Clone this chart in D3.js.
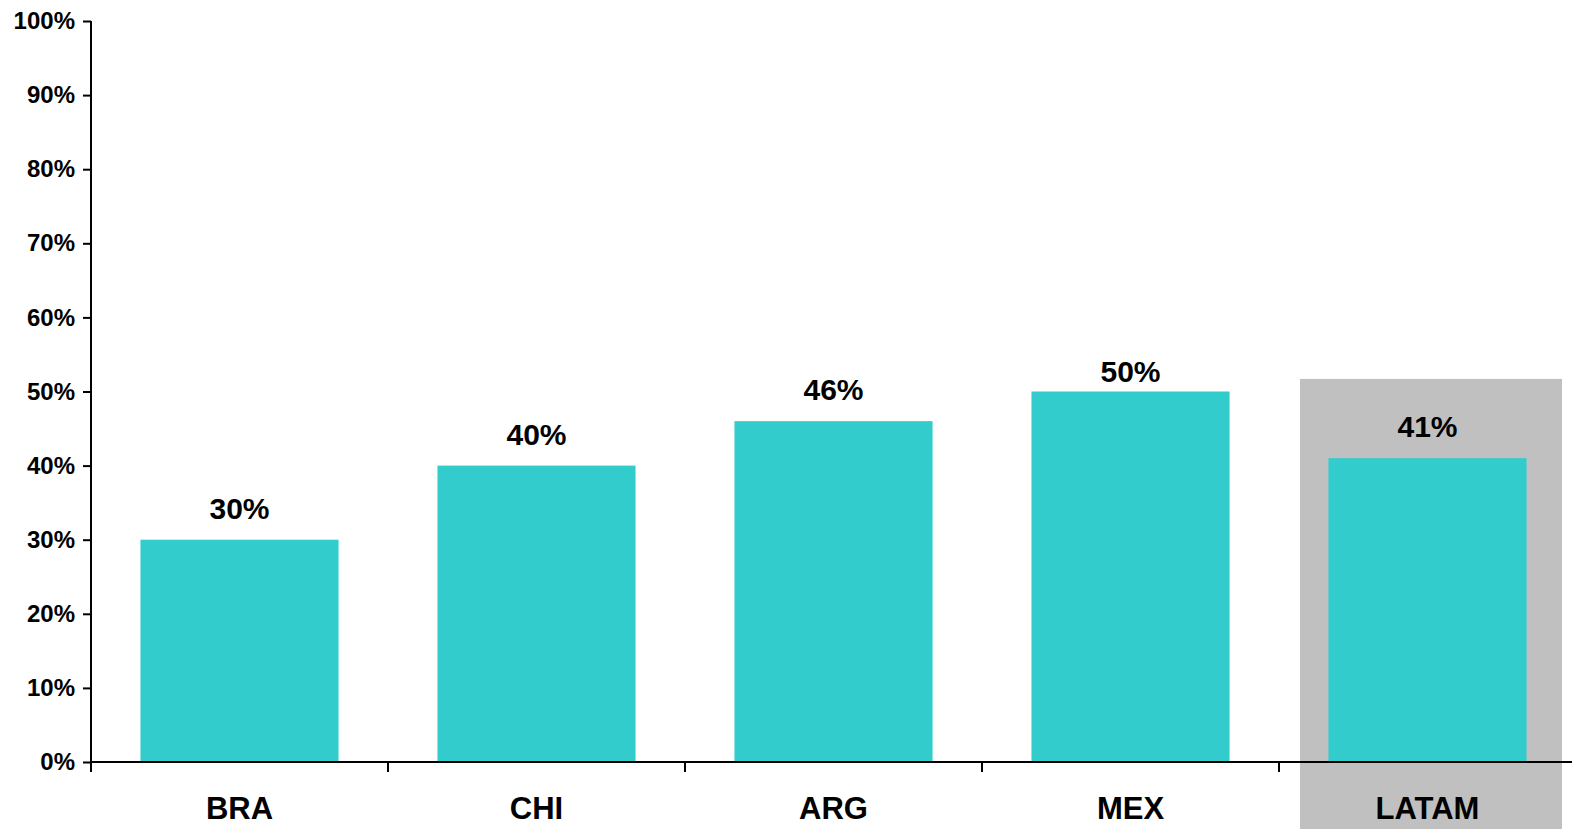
<!DOCTYPE html>
<html><head><meta charset="utf-8">
<script src="https://cdn.jsdelivr.net/npm/d3@7"></script>
<style>body{margin:0;background:#fff}svg{display:block}text{font-family:"Liberation Sans",Arial,sans-serif;font-weight:bold;fill:#000}</style>
</head><body><svg id="c" width="1572" height="829"></svg>
<script>
const categories = ["BRA","CHI","ARG","MEX","LATAM"];
const values = [30,40,46,50,41];
const yTicks = [0,10,20,30,40,50,60,70,80,90,100];
const highlight = "LATAM";
const highlightTop = 51.7;

const svg = d3.select("#c");
const x = d3.scaleBand().domain(categories).range([91,1576]).padding(0);
const y = d3.scaleLinear().domain([0,100]).range([762,21]);
const barW = x.bandwidth()*0.667;

// highlight box
svg.append("rect")
  .attr("x", x(highlight)+21).attr("width", x.bandwidth()-35)
  .attr("y", y(highlightTop)).attr("height", 829-y(highlightTop))
  .attr("fill","#C0C0C0");

// bars
svg.selectAll("rect.bar").data(categories).enter().append("rect")
  .attr("class","bar")
  .attr("x", d=>x(d)+x.bandwidth()/2-barW/2)
  .attr("width", barW)
  .attr("y", (d,i)=>y(values[i]))
  .attr("height", (d,i)=>y(0)-y(values[i]))
  .attr("fill","#33CCCC");

// value labels (kept below the top of the highlight box)
svg.selectAll("text.val").data(categories).enter().append("text")
  .attr("class","val")
  .attr("x", d=>x(d)+x.bandwidth()/2)
  .attr("y", (d,i)=>Math.max(y(values[i])-21, y(highlightTop)+3))
  .attr("text-anchor","middle").attr("font-size",30)
  .text((d,i)=>values[i]+"%");

// y axis
const yAxis = d3.axisLeft(y).tickValues(yTicks).tickFormat(d=>d+"%").tickSize(8).tickPadding(8);
const gy = svg.append("g").attr("transform","translate(91,0)").call(yAxis);
gy.select(".domain").remove();
gy.append("line").attr("x1",0).attr("x2",0).attr("y1",y(100)).attr("y2",772).attr("stroke","#000").attr("stroke-width",2);
gy.selectAll(".tick line").attr("stroke","#000").attr("stroke-width",2);
gy.selectAll(".tick text").attr("font-size",24).attr("font-family","Liberation Sans, Arial, sans-serif").attr("font-weight","bold").attr("fill","#000");

// x axis
const gx = svg.append("g").attr("transform","translate(0,762)");
gx.append("line").attr("x1",91).attr("x2",1572).attr("stroke","#000").attr("stroke-width",2);
gx.selectAll("line.t").data(categories).enter().append("line").attr("class","t")
  .attr("x1",d=>x(d)).attr("x2",d=>x(d)).attr("y1",0).attr("y2",10)
  .attr("stroke","#000").attr("stroke-width",2);
gx.selectAll("text").data(categories).enter().append("text")
  .attr("x",d=>x(d)+x.bandwidth()/2).attr("y",57)
  .attr("text-anchor","middle").attr("font-size",31)
  .text(d=>d);
</script></body></html>
